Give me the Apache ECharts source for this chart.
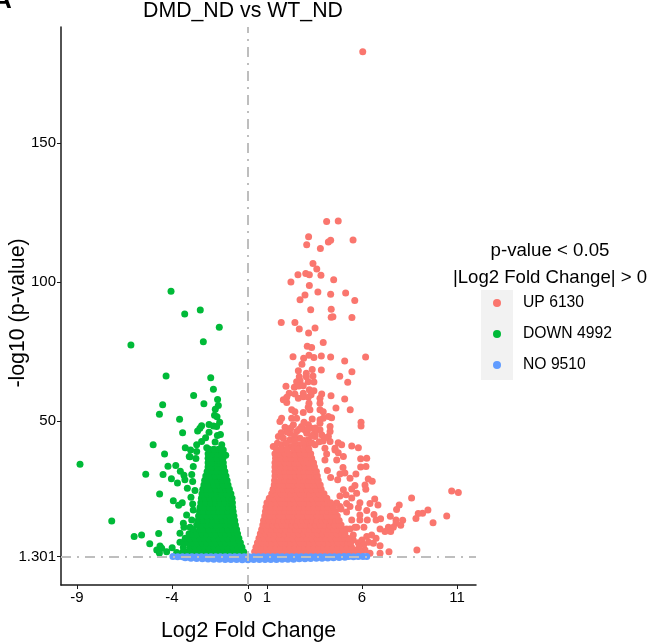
<!DOCTYPE html>
<html><head><meta charset="utf-8">
<style>html,body{margin:0;padding:0;background:#fff}#c{width:649px;height:644px}</style>
<script src="https://cdn.jsdelivr.net/npm/echarts@6/dist/echarts.min.js"></script>
</head><body><div id="c"></div>
<script>
const xTicks = [-9,-4,0,1,6,11];
const yTicks = [1.301,50,100,150];
const legendNames = ['UP 6130','DOWN 4992','NO 9510'];

// Scattered points read one by one
const upSparse = [[6.04,182.8],[4.14,121.7],[4.75,121.9],[3.19,116.3],[3.09,113.4],[4.23,114.4],[4.35,115],[5.53,115.1],[3.81,112],[3.42,106.6],[3.62,104.7],[2.63,102.6],[3.04,103],[3.23,102.6],[3.84,102.4],[4.51,100.8],[2.26,100],[3.23,98.7],[3.68,96.4],[3,95.3],[4.35,95.6],[5.14,96],[2.74,93.6],[5.62,93.3],[3.3,90],[4.38,90.2],[4.47,87.5],[4.38,87.3],[5.47,87.2],[1.75,85.4],[2.47,85.4],[2.7,83.1],[3.53,83.4],[3.19,81.6],[3.96,78.2],[3.12,76.9],[3.35,76.4],[2.37,73.1],[3.21,73.6],[2.93,72.6],[3.47,72.8],[3.86,73.4],[4.35,73],[6.19,73],[5.09,71.6],[2.84,70.4],[2.65,68.1],[3.38,68.5],[3.86,68.3],[5.47,67.7],[3.07,67.2],[3.07,65.9],[3.42,66.2],[4.83,66.1],[2.7,65.9],[2.74,64.5],[3.17,64.1],[3.47,64],[2.56,64.1],[5.25,63.9],[2,62.5],[2.44,62.1],[2.68,62.6],[2.91,62.7],[3.23,61.2],[3.47,60.9],[2.17,60],[2.47,59.7],[2.91,60],[3.32,59.4],[3.88,59.7],[4.37,59.1],[2.04,58.5],[1.86,57.6],[2.04,56.6],[2.65,58.2],[2.91,58.7],[3.17,58.5],[3.79,58.2],[5.09,57.9],[3.21,56.4],[3.79,56.4],[4.63,54.7],[5.38,54],[2.3,54],[2.47,53.3],[2.91,53],[3.17,54.9],[3.26,54],[3.79,54],[3.96,53.3],[4.23,51.6],[4.4,51.2],[1.77,51],[1.68,49.8],[2.3,51],[2.56,51],[3.38,50.7],[3.79,50.4],[3.96,51],[5.95,49.5],[5.95,48.2],
[1.95,47.7],[2.39,48.6],[2.82,48],[3.18,48.6],[3.35,47.4],[3.79,49.2],[4.32,48],[4.32,46.2],[3.79,46.8],[2.21,45.6],[2.56,46.2],[3.09,45.6],[3.53,45.6],[1.6,44.4],[1.86,43.8],[2.21,43.2],[2.74,43.8],[3.18,43.2],[3.53,44.4],[3.88,45],[4.23,44.4],[4.32,42.6],[1.33,40.8],[1.77,41.4],[2.21,40.8],[2.65,41.4],[3.18,41.4],[3.53,41.4],[4.75,42.2],[4.93,41.4],[5.46,41],[5.81,40.4],[4.05,40.2],[4.58,40.2],
[2.45,44.6],[2.95,43],[2.98,46.8],[3.35,44.8],[2,42],[2.45,41.6],[2.9,41.8],[3.75,42.5],[1.55,42],[3.35,42.2],[2.05,46],[2.7,47],[2.95,49.5],[3.15,47],[3.55,47.5],[2.45,43],[1.75,45.8],[3.95,42.8],[4.05,44],[2.25,47.5],
[10.72,24.8],[11.07,24.3],[8.61,22.3],[7.96,19.8],[7.82,18.2],[9.47,18],[9.19,16.8],[8.96,16.7],[8.84,14.9],[10.46,15.8],[9.74,13.4],[7.49,15.7],[7.79,14.4],[8.14,14.3],[8.04,12.5],[7.79,13.2],[7.39,11.8],[7.65,11.8],[7.51,10.2],[7.21,10.2],[6.95,11.1],[6.74,7.8],[6.51,9],[6.25,8.4],[6,7.2],[6.95,5.15],[8.89,3.6],[7.42,3],[6.95,2.4],[6.42,2.4],[6.16,3.6],[5.72,3.6],[5.54,9],[5.19,11.1],[5.37,11.1],[5.72,11.8],[6.1,11.8],[5.89,14.4],[6.28,14.4],[6.74,14.4],[6.98,14.8],[6.63,16.4],[6.25,17.8],[5.89,16.2],[5.81,18.8],[6.42,20.3],[6.84,19.8],[6.67,21.9],[5.89,20.6],[5.19,20.3],[5.46,22.3],[5.72,24],[5.46,25.5],[5.63,26.8],[5.16,23.5],[4.84,23],[6.33,29.1],[6.54,28.3],[6.16,27],[6.2,25.4],[5.68,30.9],[5.93,33.4],[6.21,33.6],[5.93,36.4],[6.25,36.6],[5,33.3],[4.84,30.9],[5.1,31.3],[5.37,29.4],[4.72,28.9],[4.18,32.2],[4.35,29.7],[5.02,25.3],[5.37,19.2],[5.19,17.3],[5.46,14.4],[5.63,11.8],[5.54,7.2],[4.9,18.3],[4.84,19.2],[4.67,20.5],[4.58,39.6],[4.75,38.6],[5.02,37.2],[4.67,36],[4.14,38.1],[4.05,36],[5.8,6.2],[6.1,5.6],[6.35,6.4],[5.85,4.6],[6.6,6],[5.95,2.6]];

const downSparse = [[-4.05,96.7],[-3.33,88.5],[-2.51,89.9],[-1.51,83.7],[-2.35,78.5],[-6.16,77.3],[-4.31,66.2],[-1.96,65.5],[-1.82,61.4],[-2.86,59.2],[-1.6,57.7],[-1.56,55.6],[-1.72,54.2],[-2.32,56.2],[-4.49,55.8],[-4.66,52.4],[-3.6,50.6],[-1.76,52.1],[-1.63,51.5],[-1.49,49.5],[-2.05,48.7],[-1.82,48.2],[-1.65,48],[-2.44,48.3],[-2.53,47.4],[-2.65,46.4],[-3.44,45.8],[-2.05,45.9],[-1.45,45.1],[-1.61,44.8],[-4.99,41.4],[-4.39,38.1],[-3.3,40.4],[-3.02,39.6],[-2.23,44],[-2.7,41.4],[-2.44,42.6],[-2.17,40.4],[-1.73,42.4],[-1.38,41.4],[-1.3,39.6],[-1.9,38.4],[-1.17,37.7],[-2.7,39],[-3.09,37.2],
[-8.84,34.4],[-7.17,14],[-5.99,8.4],[-5.6,9],[-5.17,5.8],[-4.7,9.5],[-4.1,14.5],[-4.65,23.7],[-5.38,30.8],[-4.47,30.7],[-4.21,33.7],[-3.8,34],[-4.03,29.2],[-3.71,27.7],[-3.56,31.9],[-3.37,30.5],[-3.32,28.9],[-3.19,25.8],[-3.93,21.3],[-3.65,19.7],[-3.46,20.6],[-3,22.6],[-2.91,20.1],[-2.96,30.7],[-2.91,28.2],[-2.88,33.6],[-2.74,36.5],[-3.05,37.1],[-2.79,25],[-2.88,18],[-3.23,16.2],[-3.4,13.2],[-2.96,14.4],[-3.58,9.6],[-3.05,11.8],[-3.37,11.8],[-2.96,8.7],[-3.3,7.5],[-3.58,6.4],[-2.79,9.7],[-4.63,5],[-4.8,3.6],[-4.54,4.2],[-4.66,2.5],[-4.28,3],[-3.99,4.4],[-3.75,2.7]];

// Solid mass, estimated row by row between the edges seen in the picture
const upRowY = [3,4.6,6.2,7.8,9.4,11,12.6,14.2,15.8,17.4,19,20.6,22.2,23.8,25.4,27,28.6,30.2,31.8,33.4,35,36.6,38.2,39.8];
const upRowX = [
[.35,.6,.85,1.1,1.35,1.6,1.85,2.1,2.35,2.6,2.85,3.1,3.35,3.6,3.85,4.1,4.35,4.6,4.85,5.1,5.35,5.6],
[.42,.72,.98,1.22,1.48,1.72,1.98,2.22,2.48,2.72,2.98,3.22,3.48,3.72,3.98,4.22,4.48,4.72,4.98,5.22,5.45],
[.5,.75,1,1.25,1.5,1.75,2,2.25,2.5,2.75,3,3.25,3.5,3.75,4,4.25,4.5,4.75,5,5.25,5.4],
[.58,.85,1.12,1.38,1.62,1.88,2.12,2.38,2.62,2.88,3.12,3.38,3.62,3.88,4.12,4.38,4.62,4.88,5.12,5.25],
[.65,.92,1.18,1.42,1.68,1.92,2.18,2.42,2.68,2.92,3.18,3.42,3.68,3.92,4.18,4.42,4.68,4.92,5.1],
[.72,1,1.25,1.5,1.75,2,2.25,2.5,2.75,3,3.25,3.5,3.75,4,4.25,4.5,4.75,5],
[.78,1.05,1.3,1.55,1.8,2.05,2.3,2.55,2.8,3.05,3.3,3.55,3.8,4.05,4.3,4.55,4.78,4.9],
[.82,1.12,1.38,1.62,1.88,2.12,2.38,2.62,2.88,3.12,3.38,3.62,3.88,4.12,4.38,4.62,4.8],
[.88,1.15,1.4,1.65,1.9,2.15,2.4,2.65,2.9,3.15,3.4,3.65,3.9,4.15,4.4,4.7],
[.92,1.2,1.45,1.7,1.95,2.2,2.45,2.7,2.95,3.2,3.45,3.7,3.95,4.2,4.4,4.6],
[.95,1.22,1.48,1.72,1.98,2.22,2.48,2.72,2.98,3.22,3.48,3.72,3.98,4.22,4.5],
[1,1.25,1.5,1.75,2,2.25,2.5,2.75,3,3.25,3.5,3.75,4,4.2,4.35],
[1.12,1.38,1.62,1.88,2.12,2.38,2.62,2.88,3.12,3.38,3.62,3.88,4.15],
[1.25,1.5,1.75,2,2.25,2.5,2.75,3,3.25,3.5,3.75,4],
[1.32,1.6,1.85,2.1,2.35,2.6,2.85,3.1,3.35,3.6,3.85],
[1.38,1.65,1.9,2.15,2.4,2.65,2.9,3.15,3.4,3.6,3.8],
[1.4,1.7,1.95,2.2,2.45,2.7,2.95,3.2,3.45,3.7],
[1.42,1.75,2,2.25,2.5,2.75,3,3.25,3.5,3.65],
[1.42,1.7,1.95,2.2,2.45,2.7,2.95,3.2,3.45,3.6],
[1.42,1.75,2,2.25,2.5,2.75,3,3.25,3.5],
[1.42,1.7,1.95,2.2,2.45,2.7,2.95,3.2,3.45],
[1.45,1.75,2,2.25,2.55,2.8,3.05,3.35],
[1.42,1.7,1.95,2.2,2.5,2.75,3,3.3],
[1.5,1.8,2.05,2.4,2.65,2.95,3.2]
];
const downRowY = [3,4.6,6.2,7.8,9.4,11,12.6,14.2,15.8,17.4,19,20.6,22.2,23.8,25.4,27,28.6,30.2,31.8,33.4,35,36.6,38.2,39.8];
const downRowX = [
[-3.42,-3.18,-2.92,-2.68,-2.42,-2.18,-1.92,-1.68,-1.42,-1.18,-.92,-.68,-.42,-.23],
[-3.4,-3.05,-2.8,-2.55,-2.3,-2.05,-1.8,-1.55,-1.3,-1.05,-.8,-.55,-.32],
[-3.38,-3.15,-2.92,-2.68,-2.42,-2.18,-1.92,-1.68,-1.42,-1.18,-.92,-.65,-.4],
[-3.3,-3.05,-2.8,-2.55,-2.3,-2.05,-1.8,-1.55,-1.3,-1.05,-.8,-.48],
[-3.1,-2.9,-2.68,-2.42,-2.18,-1.92,-1.68,-1.42,-1.18,-.92,-.7,-.55],
[-2.9,-2.55,-2.3,-2.05,-1.8,-1.55,-1.3,-1.05,-.8,-.6],
[-2.7,-2.42,-2.18,-1.92,-1.68,-1.42,-1.18,-.92,-.66],
[-2.62,-2.35,-2.1,-1.85,-1.6,-1.35,-1.1,-.88,-.7],
[-2.6,-2.4,-2.18,-1.92,-1.68,-1.42,-1.18,-.95,-.74],
[-2.55,-2.3,-2.05,-1.8,-1.55,-1.3,-1.05,-.78],
[-2.52,-2.28,-2.02,-1.78,-1.52,-1.28,-1.02,-.81],
[-2.48,-2.2,-1.95,-1.7,-1.45,-1.2,-.95,-.82],
[-2.45,-2.25,-2,-1.75,-1.5,-1.25,-1.02,-.84],
[-2.42,-2.15,-1.9,-1.65,-1.4,-1.15,-.9],
[-2.38,-2.18,-1.92,-1.68,-1.42,-1.18,-.98],
[-2.32,-2.05,-1.8,-1.55,-1.3,-1.05],
[-2.28,-2.1,-1.85,-1.6,-1.35,-1.1],
[-2.22,-1.98,-1.72,-1.48,-1.25,-1.16],
[-2.15,-1.9,-1.65,-1.42,-1.22],
[-2.1,-1.88,-1.62,-1.42,-1.28],
[-2.1,-1.85,-1.6,-1.45,-1.3],
[-2.1,-1.9,-1.62,-1.32],
[-2.1,-1.85,-1.6,-1.35],
[-2.05,-1.8,-1.55,-1.4]
];
// Blue band along the threshold: upper edge and lower edge of the band
const noUpperX = [-3.95,-3.7,-3.45,-3.2,-2.95,-2.7,-2.45,-2.2,-1.95,-1.7,-1.45,-1.2,-.95,-.7,-.45,-.2,.05,.3,.55,.8,1.05,1.3,1.55,1.8,2.05,2.3,2.55,2.8,3.05,3.3,3.55,3.8,4.05,4.3,4.55,4.8,5.05,5.3,5.55,5.8,6.05,6.25];
const noUpperY = [1.25,1.2,1.2,1.2,1.2,1.15,1.15,1.2,1.2,1.2,1.15,1.2,1.2,1.2,1.15,1.2,1.2,1.2,1.15,1.2,1.2,1.2,1.2,1.2,1.15,1.2,1.2,1.2,1.2,1.15,1.2,1.2,1.2,1.2,1.2,1.2,1.25,1.25,1.2,1.25,1.25,1.25];
const noLowerX = [-3.3,-3,-2.7,-2.4,-2.1,-1.8,-1.5,-1.2,-.9,-.6,-.3,0,.3,.6,.9,1.2,1.5,1.8,2.1,2.4,2.7,3,3.3,3.6,3.9,4.2,4.5,4.8,5.1];
const noLowerY = [.8,.65,.5,.45,.35,.3,.25,.2,.15,.15,.1,.1,.15,.15,.15,.2,.2,.25,.3,.3,.4,.45,.5,.6,.65,.75,.8,.9,1];

function rows(ys, xs){const out=[];ys.forEach((y,i)=>xs[i].forEach(x=>out.push([x,y])));return out;}
function pairs(xs, ys){return xs.map((x,i)=>[x,ys[i]]);}
const upData = upSparse.concat(rows(upRowY, upRowX));
const downData = downSparse.concat(rows(downRowY, downRowX));
const noData = pairs(noLowerX,noLowerY).concat(pairs(noUpperX,noUpperY));

const FONT = '"Liberation Sans", Arial, sans-serif';
const chart = echarts.init(document.getElementById('c'), null, {renderer:'canvas'});
const dotStyle = c => ({color:c, opacity:1, borderWidth:0});
chart.setOption({
  animation:false,
  backgroundColor:'#fff',
  textStyle:{fontFamily:FONT,color:'#000'},
  title:[
    {text:'DMD_ND vs WT_ND',left:243,top:1,textAlign:'center',padding:0,textStyle:{fontFamily:FONT,fontSize:21.3,fontWeight:'normal',color:'#000'}},
    {text:'p-value < 0.05',left:550,top:241,textAlign:'center',padding:0,textStyle:{fontFamily:FONT,fontSize:18.7,fontWeight:'normal',color:'#000'}},
    {text:'|Log2 Fold Change| > 0',left:550,top:268,textAlign:'center',padding:0,textStyle:{fontFamily:FONT,fontSize:18.6,fontWeight:'normal',color:'#000'}}
  ],
  graphic:[
    {type:'rect',z:-1,shape:{x:481,y:290,width:32,height:90},style:{fill:'#F2F2F2'}},
    {type:'text',x:-7,y:-12,style:{text:'A',font:'bold 26px "Liberation Sans"',fill:'#000'}}
  ],
  legend:{
    orient:'vertical',left:493,top:295,padding:0,itemWidth:8,itemHeight:8,itemGap:15,
    icon:'circle',data:legendNames,selectedMode:false,
    textStyle:{fontFamily:FONT,fontSize:15.7,color:'#000',padding:[0,0,0,17]}
  },
  grid:{left:61,right:173,top:27,bottom:59,containLabel:false,outerBoundsMode:'none'},
  xAxis:{
    type:'value',min:-9.84,max:12,name:'Log2 Fold Change',nameLocation:'middle',nameGap:36,
    nameTextStyle:{fontFamily:FONT,fontSize:21.3,color:'#000',padding:[0,40,0,0]},
    splitLine:{show:false},
    axisLine:{onZero:false,lineStyle:{color:'#1a1a1a',width:1.5}},
    axisTick:{customValues:xTicks,length:4,lineStyle:{color:'#1a1a1a',width:1}},
    axisLabel:{customValues:xTicks,fontFamily:FONT,fontSize:15,color:'#000',margin:5}
  },
  yAxis:{
    type:'value',min:-9,max:191.7,name:'-log10 (p-value)',nameLocation:'middle',nameGap:32,nameMoveOverlap:false,
    nameTextStyle:{fontFamily:FONT,fontSize:21.3,color:'#000',padding:[0,14,0,0]},
    splitLine:{show:false},
    axisLine:{onZero:false,lineStyle:{color:'#1a1a1a',width:1.5}},
    axisTick:{customValues:yTicks,length:4,lineStyle:{color:'#1a1a1a',width:1}},
    axisLabel:{customValues:yTicks,fontFamily:FONT,fontSize:15,color:'#000',margin:5,
      formatter:v=>v===1.301?'1.301':String(v)}
  },
  series:[
    {name:'UP 6130',type:'scatter',data:upData,symbolSize:7,itemStyle:dotStyle('#FA766E'),silent:true,z:2},
    {name:'DOWN 4992',type:'scatter',data:downData,symbolSize:7,itemStyle:dotStyle('#00BA38'),silent:true,z:3},
    {name:'NO 9510',type:'scatter',data:noData,symbolSize:7,itemStyle:dotStyle('#619CFF'),silent:true,z:4,
     markLine:{silent:true,symbol:'none',animation:false,z:10,label:{show:false},
       lineStyle:{color:'#BEBEBE',width:2,type:[10,6,2,6],opacity:1},
       data:[{xAxis:0},{yAxis:1.301}]}}
  ]
});
</script></body></html>
